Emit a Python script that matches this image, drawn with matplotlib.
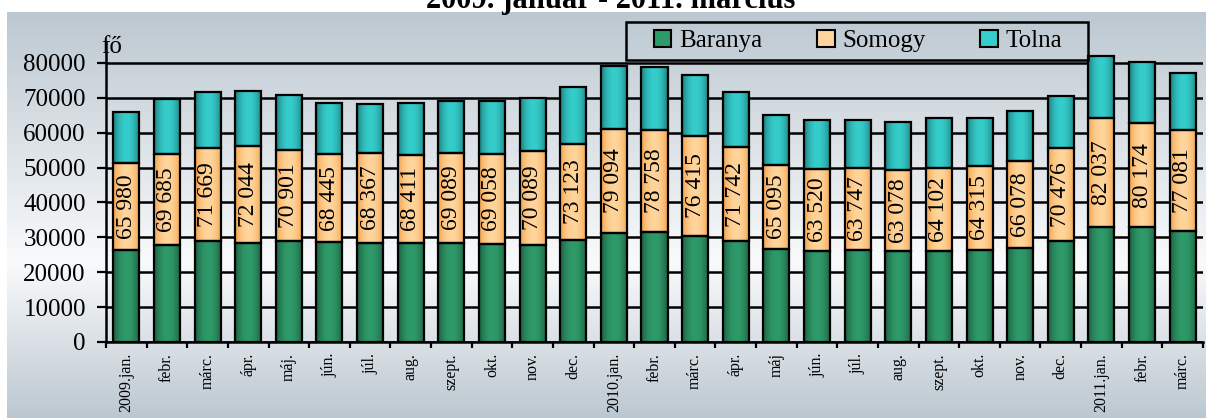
import numpy as np
import matplotlib
matplotlib.use("Agg")
import matplotlib.pyplot as plt
import matplotlib.colors as mcolors
from matplotlib.patches import Patch, Rectangle

plt.rcParams['font.family'] = ['Liberation Serif', 'DejaVu Serif']

# Data (persons, "fő")
months = ["2009.jan.", "febr.", "márc.", "ápr.", "máj.", "jún.", "júl.", "aug.",
          "szept.", "okt.", "nov.", "dec.", "2010.jan.", "febr.", "márc.", "ápr.",
          "máj", "jún.", "júl.", "aug.", "szept.", "okt.", "nov.", "dec.",
          "2011.jan.", "febr.", "márc."]
baranya = [26300, 27800, 28900, 28500, 28900, 28600, 28500, 28400, 28400, 28100,
           27800, 29200, 31300, 31600, 30500, 28900, 26700, 26200, 26400, 26200,
           26200, 26400, 26900, 28900, 33000, 33000, 31900]
somogy = [25100, 26100, 26600, 27700, 26200, 25300, 25600, 25200, 25700, 25800,
          26900, 27700, 29900, 29300, 28600, 26900, 24000, 23400, 23400, 23100,
          23800, 24100, 25100, 26600, 31100, 29700, 28900]
tolna = [14580, 15785, 16169, 15844, 15801, 14545, 14267, 14811, 14989, 15158,
         15389, 16223, 17894, 17858, 17315, 15942, 14395, 13920, 13947, 13778,
         14102, 13815, 14078, 14976, 17937, 17474, 16281]
totals = [65980, 69685, 71669, 72044, 70901, 68445, 68367, 68411, 69089, 69058,
          70089, 73123, 79094, 78758, 76415, 71742, 65095, 63520, 63747, 63078,
          64102, 64315, 66078, 70476, 82037, 80174, 77081]

series = ["Baranya", "Somogy", "Tolna"]
edge_cols = ["#17563a", "#f39a3e", "#1a7373"]
mid_cols = ["#2f9a69", "#ffd59c", "#35cdcb"]


def bar_gradient(c_edge, c_mid, n=64):
    # horizontal "cylinder" shading across a bar
    t = np.linspace(0, 1, n)
    w = np.sin(np.pi * t) ** 0.7
    e = np.array(mcolors.to_rgb(c_edge))
    m = np.array(mcolors.to_rgb(c_mid))
    return (e[None, :] * (1 - w[:, None]) + m[None, :] * w[:, None])[None, :, :]


W, H = 1207, 420
fig = plt.figure(figsize=(W / 100, H / 100), dpi=100)
fig.patch.set_facecolor("white")

#Background gradient panel
bg_ax = fig.add_axes([7 / W, 2 / H, 1199 / W, 406 / H], zorder=-1)
pos = [0.0, 0.62, 1.0]
c_top = np.array(mcolors.to_rgb("#bcc8d1"))
c_mid = np.array(mcolors.to_rgb("#f9fafb"))
s = np.linspace(0, 1, 200)
bg = np.stack([np.interp(s, pos, [c_top[k], c_mid[k], c_top[k]]) for k in range(3)], axis=1)
bg_ax.imshow(bg[:, None, :], aspect="auto", extent=[0, 1, 0, 1], interpolation="bilinear")
bg_ax.axis("off")

ax = fig.add_axes([106 / W, 78 / H, 1097 / W, 300 / H])
ax.set_facecolor("none")
ax.set_axisbelow(True)

x = np.arange(len(months))
bottom = np.zeros(len(months))
for vals, ce, cm in zip([baranya, somogy, tolna], edge_cols, mid_cols):
    bars = ax.bar(x, vals, 0.64, bottom=bottom, facecolor="none",
                  edgecolor="black", linewidth=1.6, zorder=2)
    img = bar_gradient(ce, cm)
    for rect in bars:
        x0, y0 = rect.get_x(), rect.get_y()
        im = ax.imshow(img, extent=[x0, x0 + rect.get_width(), y0, y0 + rect.get_height()],
                       aspect="auto", zorder=1.5, interpolation="bilinear")
        im.set_clip_path(rect)
    bottom = bottom + np.array(vals)

#Total labels inside Somogy segment
for i in range(len(months)):
    ymid = baranya[i] + somogy[i] / 2
    ax.text(x[i], ymid, f"{totals[i]:,}".replace(",", " "), rotation=90,
            ha="center", va="center", fontsize=17, zorder=3)

ax.set_xlim(-0.5, len(months) - 0.5)
ax.set_ylim(0, 86000)
ax.set_yticks(np.arange(0, 80001, 10000))
ax.yaxis.grid(True, color="black", linewidth=1.8)
ax.tick_params(axis="y", labelsize=18, length=6.5, width=1.6, pad=8, direction="out")

ax.set_xticks(np.arange(-0.5, len(months), 1))
ax.set_xticklabels([])
ax.set_xticks(x, minor=True)
ax.set_xticklabels(months, minor=True, rotation=90, fontsize=11.5)
ax.tick_params(axis="x", which="major", length=4, width=1.6, direction="out")
ax.tick_params(axis="x", which="minor", length=0, pad=8)

for side in ["top", "right"]:
    ax.spines[side].set_visible(False)
for side in ["left", "bottom"]:
    ax.spines[side].set_linewidth(1.8)

fig.text(101 / W, 1 - 53 / H, "fő", fontsize=18, va="baseline", ha="left")

#Legend (entries) plus a wider frame drawn by hand
handles = [Patch(facecolor=c, edgecolor="black", linewidth=1.5) for c in mid_cols]
leg = fig.legend(handles, series, loc="center", ncol=3,
                 bbox_to_anchor=(858 / W, 1 - 41 / H), fontsize=18,
                 handlelength=0.7, handleheight=0.7, handletextpad=0.3,
                 columnspacing=2.2, borderpad=0.25, frameon=False)
fig.patches.append(Rectangle((626 / W, 1 - 60 / H), 462 / W, 38 / H,
                             transform=fig.transFigure, facecolor="none",
                             edgecolor="black", linewidth=1.8))

fig.text(611 / W, 1 - 8 / H, "2009. január - 2011. március", fontsize=22,
         fontweight="bold", ha="center", va="baseline")

fig.savefig("out.png", dpi=100)
